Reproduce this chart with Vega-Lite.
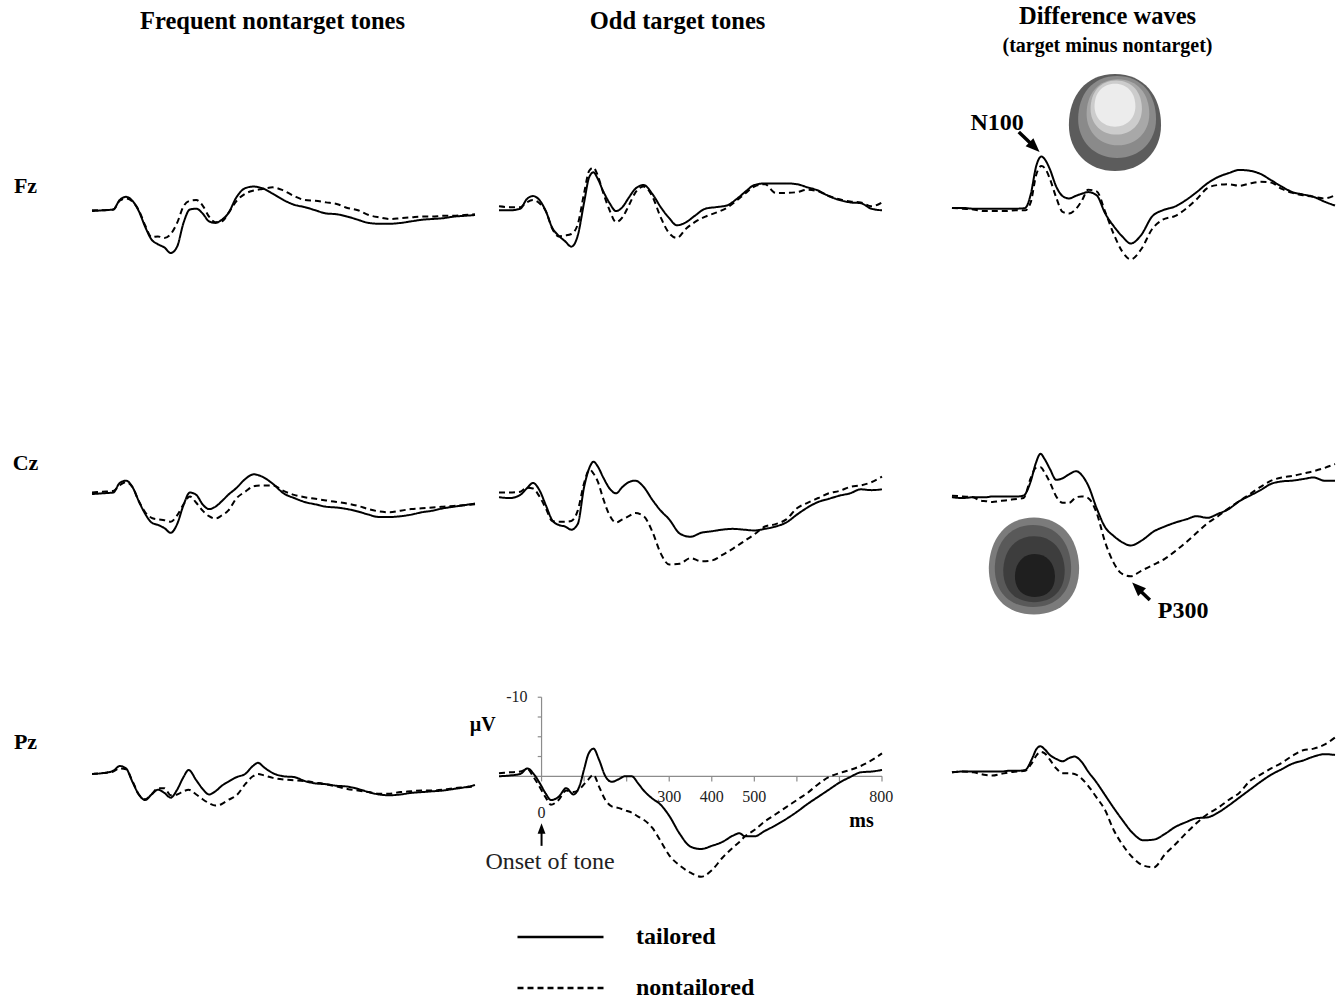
{
"$schema": "https://vega.github.io/schema/vega-lite/v6.json",
"background": "white",
"padding": {"left": 12, "top": 4, "right": 4, "bottom": 0},
"bounds": "flush",
"columns": 3,
"spacing": {"row": 0, "column": 24},
"datasets": {
"erp": [
{"e":"Fz","c":"F","t":-100,"tailored":0.1,"nontailored":0},{"e":"Fz","c":"F","t":-75,"tailored":0,"nontailored":0},{"e":"Fz","c":"F","t":-50,"tailored":-0.1,"nontailored":-0.1},{"e":"Fz","c":"F","t":-35,"tailored":-1.3,"nontailored":-1.2},{"e":"Fz","c":"F","t":-20,"tailored":-1.7,"nontailored":-1.5},{"e":"Fz","c":"F","t":-5,"tailored":-1.2,"nontailored":-1.1},{"e":"Fz","c":"F","t":10,"tailored":0.1,"nontailored":0},{"e":"Fz","c":"F","t":25,"tailored":2.1,"nontailored":1.9},{"e":"Fz","c":"F","t":40,"tailored":3.7,"nontailored":3.4},{"e":"Fz","c":"F","t":55,"tailored":4.3,"nontailored":3.3},{"e":"Fz","c":"F","t":70,"tailored":4.7,"nontailored":3.5},{"e":"Fz","c":"F","t":85,"tailored":5.4,"nontailored":3.0},{"e":"Fz","c":"F","t":100,"tailored":4.6,"nontailored":1.6},{"e":"Fz","c":"F","t":115,"tailored":1.6,"nontailored":-0.5},{"e":"Fz","c":"F","t":130,"tailored":-0.1,"nontailored":-1.2},{"e":"Fz","c":"F","t":145,"tailored":-0.2,"nontailored":-1.3},{"e":"Fz","c":"F","t":160,"tailored":0.4,"nontailored":-0.6},{"e":"Fz","c":"F","t":175,"tailored":1.4,"nontailored":0.8},{"e":"Fz","c":"F","t":190,"tailored":1.6,"nontailored":1.5},{"e":"Fz","c":"F","t":205,"tailored":1.2,"nontailored":1.4},{"e":"Fz","c":"F","t":220,"tailored":0.4,"nontailored":0.4},{"e":"Fz","c":"F","t":240,"tailored":-1.7,"nontailored":-1.2},{"e":"Fz","c":"F","t":260,"tailored":-2.8,"nontailored":-2.1},{"e":"Fz","c":"F","t":280,"tailored":-3.0,"nontailored":-2.5},{"e":"Fz","c":"F","t":300,"tailored":-2.8,"nontailored":-2.7},{"e":"Fz","c":"F","t":325,"tailored":-2.1,"nontailored":-2.9},{"e":"Fz","c":"F","t":350,"tailored":-1.3,"nontailored":-2.5},{"e":"Fz","c":"F","t":375,"tailored":-0.7,"nontailored":-1.8},{"e":"Fz","c":"F","t":400,"tailored":-0.4,"nontailored":-1.3},{"e":"Fz","c":"F","t":425,"tailored":0.0,"nontailored":-1.2},{"e":"Fz","c":"F","t":450,"tailored":0.4,"nontailored":-1.0},{"e":"Fz","c":"F","t":475,"tailored":0.5,"nontailored":-0.8},{"e":"Fz","c":"F","t":500,"tailored":0.8,"nontailored":-0.3},{"e":"Fz","c":"F","t":525,"tailored":1.2,"nontailored":0.0},{"e":"Fz","c":"F","t":550,"tailored":1.6,"nontailored":0.6},{"e":"Fz","c":"F","t":575,"tailored":1.7,"nontailored":0.9},{"e":"Fz","c":"F","t":600,"tailored":1.7,"nontailored":1.1},{"e":"Fz","c":"F","t":625,"tailored":1.6,"nontailored":1.0},{"e":"Fz","c":"F","t":650,"tailored":1.4,"nontailored":0.9},{"e":"Fz","c":"F","t":675,"tailored":1.2,"nontailored":0.8},{"e":"Fz","c":"F","t":700,"tailored":1.1,"nontailored":0.8},{"e":"Fz","c":"F","t":725,"tailored":1.0,"nontailored":0.7},{"e":"Fz","c":"F","t":750,"tailored":0.8,"nontailored":0.7},{"e":"Fz","c":"F","t":775,"tailored":0.7,"nontailored":0.6},{"e":"Fz","c":"F","t":800,"tailored":0.6,"nontailored":0.5},
{"e":"Fz","c":"O","t":-100,"tailored":0,"nontailored":-0.5},{"e":"Fz","c":"O","t":-75,"tailored":0,"nontailored":-0.4},{"e":"Fz","c":"O","t":-50,"tailored":-0.2,"nontailored":-0.4},{"e":"Fz","c":"O","t":-35,"tailored":-1.4,"nontailored":-1.0},{"e":"Fz","c":"O","t":-20,"tailored":-1.8,"nontailored":-1.3},{"e":"Fz","c":"O","t":-5,"tailored":-1.3,"nontailored":-0.9},{"e":"Fz","c":"O","t":10,"tailored":0.1,"nontailored":0.1},{"e":"Fz","c":"O","t":25,"tailored":2.2,"nontailored":2.3},{"e":"Fz","c":"O","t":40,"tailored":3.2,"nontailored":3.3},{"e":"Fz","c":"O","t":55,"tailored":3.9,"nontailored":3.2},{"e":"Fz","c":"O","t":70,"tailored":4.6,"nontailored":3.0},{"e":"Fz","c":"O","t":85,"tailored":3.2,"nontailored":1.8},{"e":"Fz","c":"O","t":100,"tailored":-1.0,"nontailored":-2.2},{"e":"Fz","c":"O","t":112,"tailored":-4.2,"nontailored":-5.0},{"e":"Fz","c":"O","t":122,"tailored":-4.8,"nontailored":-5.4},{"e":"Fz","c":"O","t":132,"tailored":-4.0,"nontailored":-4.4},{"e":"Fz","c":"O","t":145,"tailored":-2.4,"nontailored":-2.2},{"e":"Fz","c":"O","t":160,"tailored":-0.9,"nontailored":0.0},{"e":"Fz","c":"O","t":175,"tailored":0.1,"nontailored":1.5},{"e":"Fz","c":"O","t":190,"tailored":-0.4,"nontailored":0.9},{"e":"Fz","c":"O","t":205,"tailored":-1.6,"nontailored":-0.6},{"e":"Fz","c":"O","t":220,"tailored":-2.7,"nontailored":-2.2},{"e":"Fz","c":"O","t":240,"tailored":-3.2,"nontailored":-3.0},{"e":"Fz","c":"O","t":260,"tailored":-2.1,"nontailored":-1.8},{"e":"Fz","c":"O","t":280,"tailored":-0.4,"nontailored":0.9},{"e":"Fz","c":"O","t":300,"tailored":1.0,"nontailored":2.9},{"e":"Fz","c":"O","t":318,"tailored":1.9,"nontailored":3.5},{"e":"Fz","c":"O","t":340,"tailored":1.5,"nontailored":2.3},{"e":"Fz","c":"O","t":360,"tailored":0.7,"nontailored":1.5},{"e":"Fz","c":"O","t":385,"tailored":-0.2,"nontailored":0.8},{"e":"Fz","c":"O","t":410,"tailored":-0.4,"nontailored":0.3},{"e":"Fz","c":"O","t":435,"tailored":-0.6,"nontailored":-0.3},{"e":"Fz","c":"O","t":460,"tailored":-1.5,"nontailored":-1.3},{"e":"Fz","c":"O","t":480,"tailored":-2.4,"nontailored":-2.2},{"e":"Fz","c":"O","t":500,"tailored":-3.2,"nontailored":-3.0},{"e":"Fz","c":"O","t":525,"tailored":-3.4,"nontailored":-3.3},{"e":"Fz","c":"O","t":550,"tailored":-3.4,"nontailored":-2.2},{"e":"Fz","c":"O","t":575,"tailored":-3.4,"nontailored":-2.2},{"e":"Fz","c":"O","t":600,"tailored":-3.3,"nontailored":-2.3},{"e":"Fz","c":"O","t":625,"tailored":-2.9,"nontailored":-2.6},{"e":"Fz","c":"O","t":650,"tailored":-2.5,"nontailored":-2.4},{"e":"Fz","c":"O","t":675,"tailored":-1.8,"nontailored":-1.8},{"e":"Fz","c":"O","t":700,"tailored":-1.3,"nontailored":-1.4},{"e":"Fz","c":"O","t":725,"tailored":-1.0,"nontailored":-1.1},{"e":"Fz","c":"O","t":750,"tailored":-0.9,"nontailored":-1.0},{"e":"Fz","c":"O","t":775,"tailored":-0.2,"nontailored":-0.5},{"e":"Fz","c":"O","t":800,"tailored":0.0,"nontailored":-1.0},
{"e":"Fz","c":"D","t":-100,"tailored":-0.3,"nontailored":-0.3},{"e":"Fz","c":"D","t":-75,"tailored":-0.3,"nontailored":-0.2},{"e":"Fz","c":"D","t":-50,"tailored":-0.2,"nontailored":-0.1},{"e":"Fz","c":"D","t":-25,"tailored":-0.2,"nontailored":0.1},{"e":"Fz","c":"D","t":0,"tailored":-0.2,"nontailored":0.1},{"e":"Fz","c":"D","t":25,"tailored":-0.2,"nontailored":0.1},{"e":"Fz","c":"D","t":50,"tailored":-0.2,"nontailored":0.0},{"e":"Fz","c":"D","t":72,"tailored":-0.3,"nontailored":0.0},{"e":"Fz","c":"D","t":85,"tailored":-2.0,"nontailored":-1.0},{"e":"Fz","c":"D","t":98,"tailored":-5.6,"nontailored":-4.5},{"e":"Fz","c":"D","t":110,"tailored":-6.8,"nontailored":-5.6},{"e":"Fz","c":"D","t":120,"tailored":-6.3,"nontailored":-5.2},{"e":"Fz","c":"D","t":130,"tailored":-5.2,"nontailored":-4.0},{"e":"Fz","c":"D","t":145,"tailored":-3.0,"nontailored":-1.6},{"e":"Fz","c":"D","t":160,"tailored":-1.8,"nontailored":0.2},{"e":"Fz","c":"D","t":175,"tailored":-1.5,"nontailored":0.4},{"e":"Fz","c":"D","t":190,"tailored":-1.8,"nontailored":-0.1},{"e":"Fz","c":"D","t":205,"tailored":-2.1,"nontailored":-1.2},{"e":"Fz","c":"D","t":220,"tailored":-2.3,"nontailored":-2.6},{"e":"Fz","c":"D","t":240,"tailored":-1.9,"nontailored":-2.4},{"e":"Fz","c":"D","t":260,"tailored":0.4,"nontailored":0.2},{"e":"Fz","c":"D","t":280,"tailored":2.0,"nontailored":3.0},{"e":"Fz","c":"D","t":300,"tailored":3.3,"nontailored":5.2},{"e":"Fz","c":"D","t":320,"tailored":4.2,"nontailored":6.2},{"e":"Fz","c":"D","t":345,"tailored":3.1,"nontailored":4.9},{"e":"Fz","c":"D","t":370,"tailored":0.8,"nontailored":2.4},{"e":"Fz","c":"D","t":395,"tailored":0.0,"nontailored":1.2},{"e":"Fz","c":"D","t":425,"tailored":-0.5,"nontailored":0.7},{"e":"Fz","c":"D","t":450,"tailored":-1.3,"nontailored":-0.2},{"e":"Fz","c":"D","t":475,"tailored":-2.3,"nontailored":-1.4},{"e":"Fz","c":"D","t":500,"tailored":-3.4,"nontailored":-2.8},{"e":"Fz","c":"D","t":525,"tailored":-4.2,"nontailored":-3.2},{"e":"Fz","c":"D","t":550,"tailored":-4.7,"nontailored":-3.3},{"e":"Fz","c":"D","t":575,"tailored":-5.1,"nontailored":-3.1},{"e":"Fz","c":"D","t":600,"tailored":-5.0,"nontailored":-3.4},{"e":"Fz","c":"D","t":625,"tailored":-4.6,"nontailored":-3.6},{"e":"Fz","c":"D","t":650,"tailored":-3.8,"nontailored":-3.5},{"e":"Fz","c":"D","t":675,"tailored":-3.0,"nontailored":-2.7},{"e":"Fz","c":"D","t":700,"tailored":-2.3,"nontailored":-2.2},{"e":"Fz","c":"D","t":725,"tailored":-2.0,"nontailored":-1.9},{"e":"Fz","c":"D","t":750,"tailored":-1.7,"nontailored":-1.7},{"e":"Fz","c":"D","t":775,"tailored":-1.1,"nontailored":-1.5},{"e":"Fz","c":"D","t":800,"tailored":-0.6,"nontailored":-1.9},
{"e":"Cz","c":"F","t":-100,"tailored":0.1,"nontailored":-0.1},{"e":"Cz","c":"F","t":-75,"tailored":0.0,"nontailored":-0.2},{"e":"Cz","c":"F","t":-50,"tailored":-0.1,"nontailored":-0.3},{"e":"Cz","c":"F","t":-35,"tailored":-1.3,"nontailored":-1.0},{"e":"Cz","c":"F","t":-20,"tailored":-1.6,"nontailored":-1.4},{"e":"Cz","c":"F","t":-5,"tailored":-0.8,"nontailored":-0.8},{"e":"Cz","c":"F","t":10,"tailored":1.0,"nontailored":1.0},{"e":"Cz","c":"F","t":25,"tailored":2.6,"nontailored":2.4},{"e":"Cz","c":"F","t":40,"tailored":3.7,"nontailored":3.1},{"e":"Cz","c":"F","t":55,"tailored":4.0,"nontailored":3.3},{"e":"Cz","c":"F","t":70,"tailored":4.4,"nontailored":3.4},{"e":"Cz","c":"F","t":85,"tailored":5.0,"nontailored":3.6},{"e":"Cz","c":"F","t":100,"tailored":3.9,"nontailored":2.8},{"e":"Cz","c":"F","t":115,"tailored":1.5,"nontailored":1.4},{"e":"Cz","c":"F","t":130,"tailored":-0.1,"nontailored":0.4},{"e":"Cz","c":"F","t":145,"tailored":0.2,"nontailored":1.2},{"e":"Cz","c":"F","t":160,"tailored":1.4,"nontailored":2.2},{"e":"Cz","c":"F","t":175,"tailored":2.0,"nontailored":2.9},{"e":"Cz","c":"F","t":190,"tailored":1.7,"nontailored":3.2},{"e":"Cz","c":"F","t":205,"tailored":1.0,"nontailored":2.8},{"e":"Cz","c":"F","t":220,"tailored":0.2,"nontailored":2.2},{"e":"Cz","c":"F","t":240,"tailored":-0.7,"nontailored":0.6},{"e":"Cz","c":"F","t":260,"tailored":-1.8,"nontailored":-0.2},{"e":"Cz","c":"F","t":280,"tailored":-2.4,"nontailored":-0.9},{"e":"Cz","c":"F","t":300,"tailored":-2.1,"nontailored":-1.0},{"e":"Cz","c":"F","t":325,"tailored":-1.2,"nontailored":-1.0},{"e":"Cz","c":"F","t":350,"tailored":0.0,"nontailored":-0.3},{"e":"Cz","c":"F","t":375,"tailored":0.6,"nontailored":0.2},{"e":"Cz","c":"F","t":400,"tailored":1.1,"nontailored":0.5},{"e":"Cz","c":"F","t":425,"tailored":1.4,"nontailored":0.7},{"e":"Cz","c":"F","t":450,"tailored":1.7,"nontailored":0.9},{"e":"Cz","c":"F","t":475,"tailored":1.8,"nontailored":1.1},{"e":"Cz","c":"F","t":500,"tailored":2.0,"nontailored":1.3},{"e":"Cz","c":"F","t":525,"tailored":2.3,"nontailored":1.6},{"e":"Cz","c":"F","t":550,"tailored":2.7,"nontailored":2.0},{"e":"Cz","c":"F","t":575,"tailored":3.0,"nontailored":2.3},{"e":"Cz","c":"F","t":600,"tailored":3.0,"nontailored":2.4},{"e":"Cz","c":"F","t":625,"tailored":2.9,"nontailored":2.2},{"e":"Cz","c":"F","t":650,"tailored":2.7,"nontailored":2.0},{"e":"Cz","c":"F","t":675,"tailored":2.4,"nontailored":1.9},{"e":"Cz","c":"F","t":700,"tailored":2.2,"nontailored":1.8},{"e":"Cz","c":"F","t":725,"tailored":1.9,"nontailored":1.7},{"e":"Cz","c":"F","t":750,"tailored":1.7,"nontailored":1.6},{"e":"Cz","c":"F","t":775,"tailored":1.5,"nontailored":1.5},{"e":"Cz","c":"F","t":800,"tailored":1.3,"nontailored":1.4},
{"e":"Cz","c":"O","t":-100,"tailored":0.5,"nontailored":-0.1},{"e":"Cz","c":"O","t":-75,"tailored":0.6,"nontailored":-0.1},{"e":"Cz","c":"O","t":-50,"tailored":0.2,"nontailored":-0.2},{"e":"Cz","c":"O","t":-35,"tailored":-0.6,"nontailored":-0.7},{"e":"Cz","c":"O","t":-20,"tailored":-1.3,"nontailored":-0.6},{"e":"Cz","c":"O","t":-5,"tailored":-0.4,"nontailored":0.4},{"e":"Cz","c":"O","t":10,"tailored":1.5,"nontailored":1.9},{"e":"Cz","c":"O","t":25,"tailored":3.4,"nontailored":3.5},{"e":"Cz","c":"O","t":40,"tailored":4.0,"nontailored":3.6},{"e":"Cz","c":"O","t":55,"tailored":4.2,"nontailored":3.6},{"e":"Cz","c":"O","t":70,"tailored":4.6,"nontailored":3.5},{"e":"Cz","c":"O","t":85,"tailored":3.9,"nontailored":2.2},{"e":"Cz","c":"O","t":100,"tailored":-0.8,"nontailored":-1.3},{"e":"Cz","c":"O","t":113,"tailored":-3.3,"nontailored":-3.0},{"e":"Cz","c":"O","t":122,"tailored":-4.0,"nontailored":-2.5},{"e":"Cz","c":"O","t":132,"tailored":-3.4,"nontailored":-1.5},{"e":"Cz","c":"O","t":145,"tailored":-2.0,"nontailored":0.7},{"e":"Cz","c":"O","t":160,"tailored":-0.6,"nontailored":2.8},{"e":"Cz","c":"O","t":175,"tailored":0.0,"nontailored":3.7},{"e":"Cz","c":"O","t":190,"tailored":-0.8,"nontailored":3.3},{"e":"Cz","c":"O","t":205,"tailored":-1.4,"nontailored":2.9},{"e":"Cz","c":"O","t":220,"tailored":-1.6,"nontailored":2.5},{"e":"Cz","c":"O","t":240,"tailored":-0.8,"nontailored":2.9},{"e":"Cz","c":"O","t":260,"tailored":0.8,"nontailored":4.8},{"e":"Cz","c":"O","t":280,"tailored":2.2,"nontailored":7.6},{"e":"Cz","c":"O","t":300,"tailored":3.3,"nontailored":9.0},{"e":"Cz","c":"O","t":325,"tailored":5.1,"nontailored":8.9},{"e":"Cz","c":"O","t":350,"tailored":5.5,"nontailored":8.2},{"e":"Cz","c":"O","t":375,"tailored":5.0,"nontailored":8.6},{"e":"Cz","c":"O","t":400,"tailored":4.8,"nontailored":8.5},{"e":"Cz","c":"O","t":425,"tailored":4.6,"nontailored":7.8},{"e":"Cz","c":"O","t":450,"tailored":4.5,"nontailored":7.0},{"e":"Cz","c":"O","t":475,"tailored":4.6,"nontailored":6.1},{"e":"Cz","c":"O","t":500,"tailored":4.7,"nontailored":5.2},{"e":"Cz","c":"O","t":525,"tailored":4.5,"nontailored":4.2},{"e":"Cz","c":"O","t":550,"tailored":4.2,"nontailored":3.9},{"e":"Cz","c":"O","t":575,"tailored":3.7,"nontailored":3.3},{"e":"Cz","c":"O","t":600,"tailored":2.7,"nontailored":1.9},{"e":"Cz","c":"O","t":625,"tailored":1.8,"nontailored":1.2},{"e":"Cz","c":"O","t":650,"tailored":1.1,"nontailored":0.6},{"e":"Cz","c":"O","t":675,"tailored":0.7,"nontailored":0.0},{"e":"Cz","c":"O","t":700,"tailored":0.3,"nontailored":-0.3},{"e":"Cz","c":"O","t":725,"tailored":0.0,"nontailored":-0.8},{"e":"Cz","c":"O","t":750,"tailored":-0.5,"nontailored":-1.0},{"e":"Cz","c":"O","t":775,"tailored":-0.4,"nontailored":-1.4},{"e":"Cz","c":"O","t":800,"tailored":-0.5,"nontailored":-2.1},
{"e":"Cz","c":"D","t":-100,"tailored":0.5,"nontailored":0.3},{"e":"Cz","c":"D","t":-75,"tailored":0.6,"nontailored":0.4},{"e":"Cz","c":"D","t":-50,"tailored":0.5,"nontailored":0.5},{"e":"Cz","c":"D","t":-35,"tailored":0.5,"nontailored":0.9},{"e":"Cz","c":"D","t":-20,"tailored":0.5,"nontailored":1.0},{"e":"Cz","c":"D","t":-5,"tailored":0.4,"nontailored":1.1},{"e":"Cz","c":"D","t":10,"tailored":0.4,"nontailored":1.0},{"e":"Cz","c":"D","t":25,"tailored":0.4,"nontailored":0.9},{"e":"Cz","c":"D","t":40,"tailored":0.4,"nontailored":0.8},{"e":"Cz","c":"D","t":55,"tailored":0.4,"nontailored":0.7},{"e":"Cz","c":"D","t":68,"tailored":0.3,"nontailored":0.6},{"e":"Cz","c":"D","t":85,"tailored":-1.5,"nontailored":-1.9},{"e":"Cz","c":"D","t":97,"tailored":-3.8,"nontailored":-3.2},{"e":"Cz","c":"D","t":108,"tailored":-5.0,"nontailored":-3.3},{"e":"Cz","c":"D","t":118,"tailored":-4.3,"nontailored":-2.6},{"e":"Cz","c":"D","t":130,"tailored":-3.1,"nontailored":-1.4},{"e":"Cz","c":"D","t":145,"tailored":-1.7,"nontailored":0.4},{"e":"Cz","c":"D","t":160,"tailored":-1.9,"nontailored":1.2},{"e":"Cz","c":"D","t":175,"tailored":-2.4,"nontailored":1.2},{"e":"Cz","c":"D","t":192,"tailored":-2.8,"nontailored":0.5},{"e":"Cz","c":"D","t":205,"tailored":-2.3,"nontailored":0.4},{"e":"Cz","c":"D","t":220,"tailored":-1.0,"nontailored":0.6},{"e":"Cz","c":"D","t":240,"tailored":1.9,"nontailored":2.5},{"e":"Cz","c":"D","t":260,"tailored":4.3,"nontailored":6.2},{"e":"Cz","c":"D","t":280,"tailored":5.4,"nontailored":8.8},{"e":"Cz","c":"D","t":300,"tailored":6.2,"nontailored":10.2},{"e":"Cz","c":"D","t":320,"tailored":6.6,"nontailored":10.5},{"e":"Cz","c":"D","t":345,"tailored":6.0,"nontailored":9.8},{"e":"Cz","c":"D","t":375,"tailored":4.8,"nontailored":9.0},{"e":"Cz","c":"D","t":400,"tailored":4.2,"nontailored":8.3},{"e":"Cz","c":"D","t":425,"tailored":3.7,"nontailored":7.3},{"e":"Cz","c":"D","t":450,"tailored":3.3,"nontailored":6.2},{"e":"Cz","c":"D","t":475,"tailored":2.9,"nontailored":5.0},{"e":"Cz","c":"D","t":500,"tailored":3.1,"nontailored":3.8},{"e":"Cz","c":"D","t":525,"tailored":2.6,"nontailored":2.9},{"e":"Cz","c":"D","t":550,"tailored":2.0,"nontailored":1.9},{"e":"Cz","c":"D","t":575,"tailored":1.0,"nontailored":1.0},{"e":"Cz","c":"D","t":600,"tailored":0.3,"nontailored":0.1},{"e":"Cz","c":"D","t":625,"tailored":-0.4,"nontailored":-0.8},{"e":"Cz","c":"D","t":650,"tailored":-1.2,"nontailored":-1.6},{"e":"Cz","c":"D","t":675,"tailored":-1.5,"nontailored":-2.0},{"e":"Cz","c":"D","t":700,"tailored":-1.6,"nontailored":-2.2},{"e":"Cz","c":"D","t":725,"tailored":-1.8,"nontailored":-2.5},{"e":"Cz","c":"D","t":750,"tailored":-2.0,"nontailored":-2.8},{"e":"Cz","c":"D","t":775,"tailored":-1.6,"nontailored":-3.2},{"e":"Cz","c":"D","t":800,"tailored":-1.6,"nontailored":-3.7},
{"e":"Pz","c":"F","t":-100,"tailored":-0.3,"nontailored":-0.3},{"e":"Pz","c":"F","t":-75,"tailored":-0.4,"nontailored":-0.4},{"e":"Pz","c":"F","t":-50,"tailored":-0.7,"nontailored":-0.6},{"e":"Pz","c":"F","t":-35,"tailored":-1.3,"nontailored":-1.0},{"e":"Pz","c":"F","t":-20,"tailored":-1.0,"nontailored":-0.9},{"e":"Pz","c":"F","t":-5,"tailored":0.7,"nontailored":0.6},{"e":"Pz","c":"F","t":10,"tailored":2.3,"nontailored":2.3},{"e":"Pz","c":"F","t":25,"tailored":3.0,"nontailored":2.9},{"e":"Pz","c":"F","t":40,"tailored":2.3,"nontailored":2.3},{"e":"Pz","c":"F","t":55,"tailored":1.7,"nontailored":1.5},{"e":"Pz","c":"F","t":70,"tailored":2.1,"nontailored":1.5},{"e":"Pz","c":"F","t":85,"tailored":2.7,"nontailored":2.4},{"e":"Pz","c":"F","t":100,"tailored":1.7,"nontailored":2.3},{"e":"Pz","c":"F","t":115,"tailored":0.1,"nontailored":1.9},{"e":"Pz","c":"F","t":127,"tailored":-0.8,"nontailored":1.7},{"e":"Pz","c":"F","t":145,"tailored":0.5,"nontailored":2.3},{"e":"Pz","c":"F","t":160,"tailored":1.6,"nontailored":2.9},{"e":"Pz","c":"F","t":175,"tailored":2.3,"nontailored":3.4},{"e":"Pz","c":"F","t":190,"tailored":1.9,"nontailored":3.7},{"e":"Pz","c":"F","t":205,"tailored":1.2,"nontailored":3.5},{"e":"Pz","c":"F","t":220,"tailored":0.7,"nontailored":3.0},{"e":"Pz","c":"F","t":240,"tailored":0.1,"nontailored":2.4},{"e":"Pz","c":"F","t":260,"tailored":-0.3,"nontailored":1.0},{"e":"Pz","c":"F","t":278,"tailored":-1.3,"nontailored":0.0},{"e":"Pz","c":"F","t":290,"tailored":-1.7,"nontailored":-0.3},{"e":"Pz","c":"F","t":305,"tailored":-1.1,"nontailored":-0.1},{"e":"Pz","c":"F","t":325,"tailored":-0.4,"nontailored":0.2},{"e":"Pz","c":"F","t":350,"tailored":0.0,"nontailored":0.4},{"e":"Pz","c":"F","t":375,"tailored":0.1,"nontailored":0.5},{"e":"Pz","c":"F","t":400,"tailored":0.6,"nontailored":0.6},{"e":"Pz","c":"F","t":425,"tailored":0.9,"nontailored":0.8},{"e":"Pz","c":"F","t":450,"tailored":1.0,"nontailored":1.0},{"e":"Pz","c":"F","t":475,"tailored":1.2,"nontailored":1.3},{"e":"Pz","c":"F","t":500,"tailored":1.3,"nontailored":1.6},{"e":"Pz","c":"F","t":525,"tailored":1.6,"nontailored":1.8},{"e":"Pz","c":"F","t":550,"tailored":2.0,"nontailored":2.0},{"e":"Pz","c":"F","t":575,"tailored":2.3,"nontailored":2.2},{"e":"Pz","c":"F","t":600,"tailored":2.4,"nontailored":2.2},{"e":"Pz","c":"F","t":625,"tailored":2.3,"nontailored":2.0},{"e":"Pz","c":"F","t":650,"tailored":2.1,"nontailored":1.9},{"e":"Pz","c":"F","t":675,"tailored":2.0,"nontailored":1.8},{"e":"Pz","c":"F","t":700,"tailored":1.9,"nontailored":1.8},{"e":"Pz","c":"F","t":725,"tailored":1.8,"nontailored":1.7},{"e":"Pz","c":"F","t":750,"tailored":1.6,"nontailored":1.5},{"e":"Pz","c":"F","t":775,"tailored":1.4,"nontailored":1.4},{"e":"Pz","c":"F","t":800,"tailored":1.1,"nontailored":1.3},
{"e":"Pz","c":"O","t":-100,"tailored":0.0,"nontailored":-0.4},{"e":"Pz","c":"O","t":-75,"tailored":-0.1,"nontailored":-0.5},{"e":"Pz","c":"O","t":-50,"tailored":-0.3,"nontailored":-0.6},{"e":"Pz","c":"O","t":-33,"tailored":-1.0,"nontailored":-0.9},{"e":"Pz","c":"O","t":-20,"tailored":-0.4,"nontailored":0.0},{"e":"Pz","c":"O","t":-5,"tailored":0.8,"nontailored":1.3},{"e":"Pz","c":"O","t":10,"tailored":2.2,"nontailored":2.7},{"e":"Pz","c":"O","t":22,"tailored":3.0,"nontailored":3.6},{"e":"Pz","c":"O","t":40,"tailored":2.6,"nontailored":3.0},{"e":"Pz","c":"O","t":58,"tailored":1.5,"nontailored":1.8},{"e":"Pz","c":"O","t":75,"tailored":2.3,"nontailored":2.0},{"e":"Pz","c":"O","t":90,"tailored":1.1,"nontailored":1.6},{"e":"Pz","c":"O","t":100,"tailored":-0.9,"nontailored":1.0},{"e":"Pz","c":"O","t":110,"tailored":-2.8,"nontailored":0.4},{"e":"Pz","c":"O","t":122,"tailored":-3.5,"nontailored":-0.2},{"e":"Pz","c":"O","t":135,"tailored":-2.1,"nontailored":1.3},{"e":"Pz","c":"O","t":150,"tailored":0.0,"nontailored":3.0},{"e":"Pz","c":"O","t":165,"tailored":0.7,"nontailored":3.8},{"e":"Pz","c":"O","t":180,"tailored":0.4,"nontailored":4.0},{"e":"Pz","c":"O","t":196,"tailored":0.0,"nontailored":4.3},{"e":"Pz","c":"O","t":212,"tailored":0.0,"nontailored":4.6},{"e":"Pz","c":"O","t":227,"tailored":0.9,"nontailored":5.1},{"e":"Pz","c":"O","t":240,"tailored":1.8,"nontailored":5.5},{"e":"Pz","c":"O","t":260,"tailored":2.8,"nontailored":6.5},{"e":"Pz","c":"O","t":280,"tailored":3.6,"nontailored":8.2},{"e":"Pz","c":"O","t":300,"tailored":5.0,"nontailored":10.0},{"e":"Pz","c":"O","t":325,"tailored":7.3,"nontailored":11.3},{"e":"Pz","c":"O","t":350,"tailored":8.9,"nontailored":12.2},{"e":"Pz","c":"O","t":375,"tailored":9.2,"nontailored":12.7},{"e":"Pz","c":"O","t":400,"tailored":8.8,"nontailored":11.9},{"e":"Pz","c":"O","t":425,"tailored":8.3,"nontailored":10.3},{"e":"Pz","c":"O","t":450,"tailored":7.5,"nontailored":9.0},{"e":"Pz","c":"O","t":465,"tailored":7.2,"nontailored":8.3},{"e":"Pz","c":"O","t":478,"tailored":7.6,"nontailored":7.6},{"e":"Pz","c":"O","t":500,"tailored":7.6,"nontailored":6.8},{"e":"Pz","c":"O","t":525,"tailored":6.9,"nontailored":5.7},{"e":"Pz","c":"O","t":550,"tailored":6.2,"nontailored":4.8},{"e":"Pz","c":"O","t":575,"tailored":5.4,"nontailored":3.9},{"e":"Pz","c":"O","t":600,"tailored":4.5,"nontailored":3.0},{"e":"Pz","c":"O","t":625,"tailored":3.5,"nontailored":2.1},{"e":"Pz","c":"O","t":650,"tailored":2.6,"nontailored":1.0},{"e":"Pz","c":"O","t":675,"tailored":1.7,"nontailored":0.1},{"e":"Pz","c":"O","t":700,"tailored":0.8,"nontailored":-0.4},{"e":"Pz","c":"O","t":725,"tailored":0.1,"nontailored":-0.8},{"e":"Pz","c":"O","t":750,"tailored":-0.5,"nontailored":-1.3},{"e":"Pz","c":"O","t":775,"tailored":-0.6,"nontailored":-2.0},{"e":"Pz","c":"O","t":800,"tailored":-0.8,"nontailored":-2.9},
{"e":"Pz","c":"D","t":-100,"tailored":-0.5,"nontailored":-0.5},{"e":"Pz","c":"D","t":-75,"tailored":-0.6,"nontailored":-0.6},{"e":"Pz","c":"D","t":-50,"tailored":-0.6,"nontailored":-0.5},{"e":"Pz","c":"D","t":-25,"tailored":-0.6,"nontailored":-0.2},{"e":"Pz","c":"D","t":-5,"tailored":-0.6,"nontailored":-0.1},{"e":"Pz","c":"D","t":15,"tailored":-0.6,"nontailored":-0.3},{"e":"Pz","c":"D","t":35,"tailored":-0.7,"nontailored":-0.5},{"e":"Pz","c":"D","t":55,"tailored":-0.7,"nontailored":-0.6},{"e":"Pz","c":"D","t":72,"tailored":-0.8,"nontailored":-0.7},{"e":"Pz","c":"D","t":88,"tailored":-2.2,"nontailored":-1.7},{"e":"Pz","c":"D","t":98,"tailored":-3.4,"nontailored":-2.6},{"e":"Pz","c":"D","t":108,"tailored":-3.8,"nontailored":-3.1},{"e":"Pz","c":"D","t":118,"tailored":-3.4,"nontailored":-2.9},{"e":"Pz","c":"D","t":130,"tailored":-2.7,"nontailored":-2.1},{"e":"Pz","c":"D","t":145,"tailored":-2.2,"nontailored":-1.0},{"e":"Pz","c":"D","t":160,"tailored":-1.9,"nontailored":-0.4},{"e":"Pz","c":"D","t":175,"tailored":-2.3,"nontailored":-0.4},{"e":"Pz","c":"D","t":188,"tailored":-2.5,"nontailored":-0.3},{"e":"Pz","c":"D","t":205,"tailored":-1.8,"nontailored":0.3},{"e":"Pz","c":"D","t":220,"tailored":-0.6,"nontailored":1.2},{"e":"Pz","c":"D","t":240,"tailored":0.8,"nontailored":2.7},{"e":"Pz","c":"D","t":260,"tailored":2.4,"nontailored":4.3},{"e":"Pz","c":"D","t":280,"tailored":4.0,"nontailored":6.8},{"e":"Pz","c":"D","t":300,"tailored":5.5,"nontailored":8.6},{"e":"Pz","c":"D","t":325,"tailored":7.2,"nontailored":10.3},{"e":"Pz","c":"D","t":350,"tailored":8.1,"nontailored":11.3},{"e":"Pz","c":"D","t":375,"tailored":8.0,"nontailored":11.5},{"e":"Pz","c":"D","t":400,"tailored":7.3,"nontailored":9.9},{"e":"Pz","c":"D","t":425,"tailored":6.4,"nontailored":8.6},{"e":"Pz","c":"D","t":450,"tailored":5.8,"nontailored":7.2},{"e":"Pz","c":"D","t":475,"tailored":5.3,"nontailored":5.9},{"e":"Pz","c":"D","t":500,"tailored":5.2,"nontailored":4.8},{"e":"Pz","c":"D","t":525,"tailored":4.6,"nontailored":4.0},{"e":"Pz","c":"D","t":550,"tailored":3.7,"nontailored":3.0},{"e":"Pz","c":"D","t":575,"tailored":2.7,"nontailored":2.1},{"e":"Pz","c":"D","t":600,"tailored":1.7,"nontailored":0.6},{"e":"Pz","c":"D","t":625,"tailored":0.7,"nontailored":-0.2},{"e":"Pz","c":"D","t":650,"tailored":-0.2,"nontailored":-1.0},{"e":"Pz","c":"D","t":675,"tailored":-0.9,"nontailored":-1.7},{"e":"Pz","c":"D","t":700,"tailored":-1.6,"nontailored":-2.6},{"e":"Pz","c":"D","t":725,"tailored":-2.0,"nontailored":-3.3},{"e":"Pz","c":"D","t":750,"tailored":-2.5,"nontailored":-3.5},{"e":"Pz","c":"D","t":775,"tailored":-2.8,"nontailored":-4.0},{"e":"Pz","c":"D","t":800,"tailored":-2.7,"nontailored":-4.9}
]
},
"concat": [
{
 "width": 383, "height": 283,
 "title": {"text": "Frequent nontarget tones", "fontSize": 24.5, "anchor": "middle", "dx": -11, "offset": 34},
 "data": {"name": "erp"},
 "transform": [{"filter": "datum.e == 'Fz' && datum.c == 'F'"}, {"fold": ["tailored", "nontailored"], "as": ["series", "uv"]}],
 "mark": {"type": "line", "color": "black", "strokeWidth": 2, "interpolate": "monotone"},
 "encoding": {
  "x": {"field": "t", "type": "quantitative", "scale": {"domain": [-100, 800], "nice": false, "zero": false}, "axis": null},
  "y": {"field": "uv", "type": "quantitative", "scale": {"domain": [-18, 17.8], "reverse": true, "nice": false, "zero": false}, "axis": {"title": "Fz", "titleAngle": 0, "titleX": -67, "titleY": 117, "titleAlign": "center", "titleBaseline": "middle", "titleFont": "Liberation Serif", "titleFontSize": 22, "titleFontWeight": "bold", "titleColor": "black", "domain": false, "ticks": false, "labels": false, "grid": false}},
  "strokeDash": {"field": "series", "type": "nominal", "scale": {"domain": ["tailored", "nontailored"], "range": [[1, 0], [6, 4]]}, "legend": {"title": null, "orient": "none", "legendX": 424, "legendY": 856}}
 }
},
{
 "width": 383, "height": 283,
 "title": {"text": "Odd target tones", "fontSize": 24.5, "anchor": "middle", "dx": -13, "offset": 34},
 "data": {"name": "erp"},
 "transform": [{"filter": "datum.e == 'Fz' && datum.c == 'O'"}, {"fold": ["tailored", "nontailored"], "as": ["series", "uv"]}],
 "mark": {"type": "line", "color": "black", "strokeWidth": 2, "interpolate": "monotone"},
 "encoding": {
  "x": {"field": "t", "type": "quantitative", "scale": {"domain": [-100, 800], "nice": false, "zero": false}, "axis": null},
  "y": {"field": "uv", "type": "quantitative", "scale": {"domain": [-18, 17.8], "reverse": true, "nice": false, "zero": false}, "axis": null},
  "strokeDash": {"field": "series", "type": "nominal", "scale": {"domain": ["tailored", "nontailored"], "range": [[1, 0], [6, 4]]}, "legend": {"title": null, "orient": "none", "legendX": 424, "legendY": 856}}
 }
},
{
 "width": 429, "height": 283,
 "title": {"text": "Difference waves", "subtitle": "(target minus nontarget)", "fontSize": 24.5, "subtitleFontSize": 20, "subtitlePadding": 6, "anchor": "middle", "dx": -13, "offset": 11.5},
 "layer": [
  {
   "data": {"values": [
    {"zone": "N1", "ring": 1, "t": 283, "uv": -11.1},
    {"zone": "N2", "ring": 2, "t": 288, "uv": -11.8},
    {"zone": "N3", "ring": 3, "t": 290, "uv": -12.4},
    {"zone": "N4", "ring": 4, "t": 286, "uv": -13.0},
    {"zone": "N5", "ring": 5, "t": 283, "uv": -13.3}
   ]},
   "mark": {"type": "point", "filled": true, "opacity": 1, "strokeWidth": 0, "shape": "M0,-1C0.6,-1 0.95,-0.55 0.95,0.05C0.95,0.6 0.55,1 0,1C-0.55,1 -0.95,0.6 -0.95,0.05C-0.95,-0.55 -0.6,-1 0,-1Z"},
   "encoding": {
    "x": {"field": "t", "type": "quantitative", "scale": {"domain": [-208, 800], "nice": false, "zero": false}, "axis": null},
    "y": {"field": "uv", "type": "quantitative", "scale": {"domain": [-18, 17.8], "reverse": true, "nice": false, "zero": false}, "axis": null},
    "color": {"field": "zone", "type": "nominal", "scale": {"domain": ["N1", "N2", "N3", "N4", "N5", "P1", "P2", "P3", "P5"], "range": ["#5c5c5c", "#8a8a8a", "#a8a8a8", "#cccccc", "#ececec", "#7b7b7b", "#595959", "#3d3d3d", "#1f1f1f"]}, "legend": null},
    "size": {"field": "ring", "type": "quantitative", "scale": {"type": "threshold", "domain": [1.5, 2.5, 3.5, 4.5], "range": [9409, 6724, 4356, 2916, 1849]}, "legend": null},
    "order": {"field": "ring", "type": "quantitative"}
   }
  },
  {
   "data": {"name": "erp"},
   "transform": [{"filter": "datum.e == 'Fz' && datum.c == 'D'"}, {"fold": ["tailored", "nontailored"], "as": ["series", "uv"]}],
   "mark": {"type": "line", "color": "black", "strokeWidth": 2, "interpolate": "monotone"},
   "encoding": {
    "x": {"field": "t", "type": "quantitative", "scale": {"domain": [-208, 800], "nice": false, "zero": false}, "axis": null},
    "y": {"field": "uv", "type": "quantitative", "scale": {"domain": [-18, 17.8], "reverse": true, "nice": false, "zero": false}, "axis": null},
    "strokeDash": {"field": "series", "type": "nominal", "scale": {"domain": ["tailored", "nontailored"], "range": [[1, 0], [6, 4]]}, "legend": {"title": null, "orient": "none", "legendX": 424, "legendY": 856}}
   }
  },
  {
   "data": {"values": [{"t": 57, "uv": -9.9, "t2": 92, "uv2": -8.1}]},
   "mark": {"type": "rule", "color": "black", "strokeWidth": 3.5},
   "encoding": {
    "x": {"field": "t", "type": "quantitative"}, "y": {"field": "uv", "type": "quantitative"},
    "x2": {"field": "t2"}, "y2": {"field": "uv2"}
   }
  },
  {
   "data": {"values": [{"t": 94, "uv": -8.0}]},
   "mark": {"type": "point", "filled": true, "opacity": 1, "color": "black", "strokeWidth": 0, "size": 196, "angle": 134, "shape": "M0,-1L0.8,1L-0.8,1Z"},
   "encoding": {"x": {"field": "t", "type": "quantitative"}, "y": {"field": "uv", "type": "quantitative"}}
  },
  {
   "data": {"values": [{"t": 6, "uv": -11.1, "label": "N100"}]},
   "mark": {"type": "text", "font": "Liberation Serif", "fontSize": 24, "fontWeight": "bold", "color": "black", "align": "center", "baseline": "middle"},
   "encoding": {"x": {"field": "t", "type": "quantitative"}, "y": {"field": "uv", "type": "quantitative"}, "text": {"field": "label"}}
  }
 ]
},
{
 "width": 383, "height": 283,
 "data": {"name": "erp"},
 "transform": [{"filter": "datum.e == 'Cz' && datum.c == 'F'"}, {"fold": ["tailored", "nontailored"], "as": ["series", "uv"]}],
 "mark": {"type": "line", "color": "black", "strokeWidth": 2, "interpolate": "monotone"},
 "encoding": {
  "x": {"field": "t", "type": "quantitative", "scale": {"domain": [-100, 800], "nice": false, "zero": false}, "axis": null},
  "y": {"field": "uv", "type": "quantitative", "scale": {"domain": [-18, 17.8], "reverse": true, "nice": false, "zero": false}, "axis": {"title": "Cz", "titleAngle": 0, "titleX": -67, "titleY": 111, "titleAlign": "center", "titleBaseline": "middle", "titleFont": "Liberation Serif", "titleFontSize": 22, "titleFontWeight": "bold", "titleColor": "black", "domain": false, "ticks": false, "labels": false, "grid": false}},
  "strokeDash": {"field": "series", "type": "nominal", "scale": {"domain": ["tailored", "nontailored"], "range": [[1, 0], [6, 4]]}, "legend": {"title": null, "orient": "none", "legendX": 424, "legendY": 856}}
 }
},
{
 "width": 383, "height": 283,
 "data": {"name": "erp"},
 "transform": [{"filter": "datum.e == 'Cz' && datum.c == 'O'"}, {"fold": ["tailored", "nontailored"], "as": ["series", "uv"]}],
 "mark": {"type": "line", "color": "black", "strokeWidth": 2, "interpolate": "monotone"},
 "encoding": {
  "x": {"field": "t", "type": "quantitative", "scale": {"domain": [-100, 800], "nice": false, "zero": false}, "axis": null},
  "y": {"field": "uv", "type": "quantitative", "scale": {"domain": [-18, 17.8], "reverse": true, "nice": false, "zero": false}, "axis": null},
  "strokeDash": {"field": "series", "type": "nominal", "scale": {"domain": ["tailored", "nontailored"], "range": [[1, 0], [6, 4]]}, "legend": {"title": null, "orient": "none", "legendX": 424, "legendY": 856}}
 }
},
{
 "width": 429, "height": 283,
 "layer": [
  {
   "data": {"values": [
    {"zone": "P1", "ring": 1, "t": 92.7, "uv": 9.2},
    {"zone": "P2", "ring": 2, "t": 90.3, "uv": 9.2},
    {"zone": "P3", "ring": 3, "t": 92.7, "uv": 9.6},
    {"zone": "P5", "ring": 5, "t": 95, "uv": 10.4}
   ]},
   "mark": {"type": "point", "filled": true, "opacity": 1, "strokeWidth": 0, "shape": "M0,-1C0.55,-1 0.9,-0.6 0.93,0C0.95,0.6 0.6,1 0,1C-0.6,1 -0.95,0.6 -0.93,0C-0.9,-0.6 -0.55,-1 0,-1Z"},
   "encoding": {
    "x": {"field": "t", "type": "quantitative", "scale": {"domain": [-208, 800], "nice": false, "zero": false}, "axis": null},
    "y": {"field": "uv", "type": "quantitative", "scale": {"domain": [-18, 17.8], "reverse": true, "nice": false, "zero": false}, "axis": null},
    "color": {"field": "zone", "type": "nominal", "scale": {"domain": ["N1", "N2", "N3", "N4", "N5", "P1", "P2", "P3", "P5"], "range": ["#5c5c5c", "#8a8a8a", "#a8a8a8", "#cccccc", "#ececec", "#7b7b7b", "#595959", "#3d3d3d", "#1f1f1f"]}, "legend": null},
    "size": {"field": "ring", "type": "quantitative", "scale": {"type": "threshold", "domain": [1.5, 2.5, 3.5, 4.5], "range": [9409, 6724, 4356, 2916, 1849]}, "legend": null},
    "order": {"field": "ring", "type": "quantitative"}
   }
  },
  {
   "data": {"name": "erp"},
   "transform": [{"filter": "datum.e == 'Cz' && datum.c == 'D'"}, {"fold": ["tailored", "nontailored"], "as": ["series", "uv"]}],
   "mark": {"type": "line", "color": "black", "strokeWidth": 2, "interpolate": "monotone"},
   "encoding": {
    "x": {"field": "t", "type": "quantitative", "scale": {"domain": [-208, 800], "nice": false, "zero": false}, "axis": null},
    "y": {"field": "uv", "type": "quantitative", "scale": {"domain": [-18, 17.8], "reverse": true, "nice": false, "zero": false}, "axis": null},
    "strokeDash": {"field": "series", "type": "nominal", "scale": {"domain": ["tailored", "nontailored"], "range": [[1, 0], [6, 4]]}, "legend": {"title": null, "orient": "none", "legendX": 424, "legendY": 856}}
   }
  },
  {
   "data": {"values": [{"t": 365, "uv": 13.5, "t2": 338, "uv2": 12.1}]},
   "mark": {"type": "rule", "color": "black", "strokeWidth": 3.5},
   "encoding": {
    "x": {"field": "t", "type": "quantitative"}, "y": {"field": "uv", "type": "quantitative"},
    "x2": {"field": "t2"}, "y2": {"field": "uv2"}
   }
  },
  {
   "data": {"values": [{"t": 335, "uv": 11.9}]},
   "mark": {"type": "point", "filled": true, "opacity": 1, "color": "black", "strokeWidth": 0, "size": 196, "angle": -45, "shape": "M0,-1L0.8,1L-0.8,1Z"},
   "encoding": {"x": {"field": "t", "type": "quantitative"}, "y": {"field": "uv", "type": "quantitative"}}
  },
  {
   "data": {"values": [{"t": 443, "uv": 14.9, "label": "P300"}]},
   "mark": {"type": "text", "font": "Liberation Serif", "fontSize": 24, "fontWeight": "bold", "color": "black", "align": "center", "baseline": "middle"},
   "encoding": {"x": {"field": "t", "type": "quantitative"}, "y": {"field": "uv", "type": "quantitative"}, "text": {"field": "label"}}
  }
 ]
},
{
 "width": 383, "height": 283,
 "data": {"name": "erp"},
 "transform": [{"filter": "datum.e == 'Pz' && datum.c == 'F'"}, {"fold": ["tailored", "nontailored"], "as": ["series", "uv"]}],
 "mark": {"type": "line", "color": "black", "strokeWidth": 2, "interpolate": "monotone"},
 "encoding": {
  "x": {"field": "t", "type": "quantitative", "scale": {"domain": [-100, 800], "nice": false, "zero": false}, "axis": null},
  "y": {"field": "uv", "type": "quantitative", "scale": {"domain": [-18, 17.8], "reverse": true, "nice": false, "zero": false}, "axis": {"title": "Pz", "titleAngle": 0, "titleX": -67, "titleY": 107, "titleAlign": "center", "titleBaseline": "middle", "titleFont": "Liberation Serif", "titleFontSize": 22, "titleFontWeight": "bold", "titleColor": "black", "domain": false, "ticks": false, "labels": false, "grid": false}},
  "strokeDash": {"field": "series", "type": "nominal", "scale": {"domain": ["tailored", "nontailored"], "range": [[1, 0], [6, 4]]}, "legend": {"title": null, "orient": "none", "legendX": 424, "legendY": 856}}
 }
},
{
 "width": 383, "height": 283,
 "layer": [
  {
   "data": {"values": [
    {"t": 0, "uv": -10, "t2": 0, "uv2": 0},
    {"t": -100, "uv": 0, "t2": 800, "uv2": 0},
    {"t": -9, "uv": -10, "t2": 0, "uv2": -10},
    {"t": -9, "uv": -7.5, "t2": 0, "uv2": -7.5},
    {"t": -9, "uv": -5, "t2": 0, "uv2": -5},
    {"t": -9, "uv": -2.5, "t2": 0, "uv2": -2.5},
    {"t": 0, "uv": 0, "t2": 0, "uv2": 0.65},
    {"t": 100, "uv": 0, "t2": 100, "uv2": 0.65},
    {"t": 200, "uv": 0, "t2": 200, "uv2": 0.65},
    {"t": 300, "uv": 0, "t2": 300, "uv2": 0.65},
    {"t": 400, "uv": 0, "t2": 400, "uv2": 0.65},
    {"t": 500, "uv": 0, "t2": 500, "uv2": 0.65},
    {"t": 600, "uv": 0, "t2": 600, "uv2": 0.65},
    {"t": 700, "uv": 0, "t2": 700, "uv2": 0.65},
    {"t": 800, "uv": 0, "t2": 800, "uv2": 0.65}
   ]},
   "mark": {"type": "rule", "color": "#8c8c8c", "strokeWidth": 1.2},
   "encoding": {
    "x": {"field": "t", "type": "quantitative", "scale": {"domain": [-100, 800], "nice": false, "zero": false}, "axis": null},
    "y": {"field": "uv", "type": "quantitative", "scale": {"domain": [-18, 17.8], "reverse": true, "nice": false, "zero": false}, "axis": null},
    "x2": {"field": "t2"}, "y2": {"field": "uv2"}
   }
  },
  {
   "data": {"values": [
    {"t": -58, "uv": -10, "label": "-10"},
    {"t": 0, "uv": 4.7, "label": "0"},
    {"t": 300, "uv": 2.6, "label": "300"},
    {"t": 400, "uv": 2.6, "label": "400"},
    {"t": 500, "uv": 2.6, "label": "500"},
    {"t": 798, "uv": 2.6, "label": "800"}
   ]},
   "mark": {"type": "text", "font": "Liberation Serif", "fontSize": 16, "color": "#222222", "align": "center", "baseline": "middle"},
   "encoding": {"x": {"field": "t", "type": "quantitative"}, "y": {"field": "uv", "type": "quantitative"}, "text": {"field": "label"}}
  },
  {
   "data": {"values": [
    {"t": -138, "uv": -6.5, "label": "µV"},
    {"t": 752, "uv": 5.6, "label": "ms"}
   ]},
   "mark": {"type": "text", "font": "Liberation Serif", "fontSize": 20, "fontWeight": "bold", "color": "black", "align": "center", "baseline": "middle"},
   "encoding": {"x": {"field": "t", "type": "quantitative"}, "y": {"field": "uv", "type": "quantitative"}, "text": {"field": "label"}}
  },
  {
   "data": {"name": "erp"},
   "transform": [{"filter": "datum.e == 'Pz' && datum.c == 'O'"}, {"fold": ["tailored", "nontailored"], "as": ["series", "uv"]}],
   "mark": {"type": "line", "color": "black", "strokeWidth": 2, "interpolate": "monotone"},
   "encoding": {
    "x": {"field": "t", "type": "quantitative"},
    "y": {"field": "uv", "type": "quantitative"},
    "strokeDash": {"field": "series", "type": "nominal", "scale": {"domain": ["tailored", "nontailored"], "range": [[1, 0], [6, 4]]}, "legend": {"title": null, "orient": "none", "legendX": 424, "legendY": 856}}
   }
  },
  {
   "data": {"values": [{"t": 0, "uv": 6.9, "t2": 0, "uv2": 8.8}]},
   "mark": {"type": "rule", "color": "black", "strokeWidth": 2},
   "encoding": {
    "x": {"field": "t", "type": "quantitative"}, "y": {"field": "uv", "type": "quantitative"},
    "x2": {"field": "t2"}, "y2": {"field": "uv2"}
   }
  },
  {
   "data": {"values": [{"t": 0, "uv": 6.6}]},
   "mark": {"type": "point", "filled": true, "opacity": 1, "color": "black", "strokeWidth": 0, "size": 110, "shape": "M0,-1L0.75,1L-0.75,1Z"},
   "encoding": {"x": {"field": "t", "type": "quantitative"}, "y": {"field": "uv", "type": "quantitative"}}
  },
  {
   "data": {"values": [{"t": 20, "uv": 10.8, "label": "Onset of tone"}]},
   "mark": {"type": "text", "font": "Liberation Serif", "fontSize": 24, "color": "#222222", "align": "center", "baseline": "middle"},
   "encoding": {"x": {"field": "t", "type": "quantitative"}, "y": {"field": "uv", "type": "quantitative"}, "text": {"field": "label"}}
  }
 ]
},
{
 "width": 429, "height": 283,
 "data": {"name": "erp"},
 "transform": [{"filter": "datum.e == 'Pz' && datum.c == 'D'"}, {"fold": ["tailored", "nontailored"], "as": ["series", "uv"]}],
 "mark": {"type": "line", "color": "black", "strokeWidth": 2, "interpolate": "monotone"},
 "encoding": {
  "x": {"field": "t", "type": "quantitative", "scale": {"domain": [-208, 800], "nice": false, "zero": false}, "axis": null},
  "y": {"field": "uv", "type": "quantitative", "scale": {"domain": [-18, 17.8], "reverse": true, "nice": false, "zero": false}, "axis": null},
  "strokeDash": {"field": "series", "type": "nominal", "scale": {"domain": ["tailored", "nontailored"], "range": [[1, 0], [6, 4]]}, "legend": {"title": null, "orient": "none", "legendX": 424, "legendY": 856}}
 }
}
],
"config": {
 "view": {"stroke": null},
 "title": {"font": "Liberation Serif", "fontWeight": "bold", "color": "black", "subtitleFont": "Liberation Serif", "subtitleFontWeight": "bold", "subtitleColor": "black"},
 "legend": {"symbolType": "stroke", "symbolSize": 7396, "symbolStrokeColor": "black", "symbolStrokeWidth": 2.5, "clipHeight": 26, "rowPadding": 25, "labelOffset": 31, "labelFont": "Liberation Serif", "labelFontSize": 24, "labelFontWeight": "bold", "labelColor": "black", "padding": 0, "labelLimit": 300}
}
}
